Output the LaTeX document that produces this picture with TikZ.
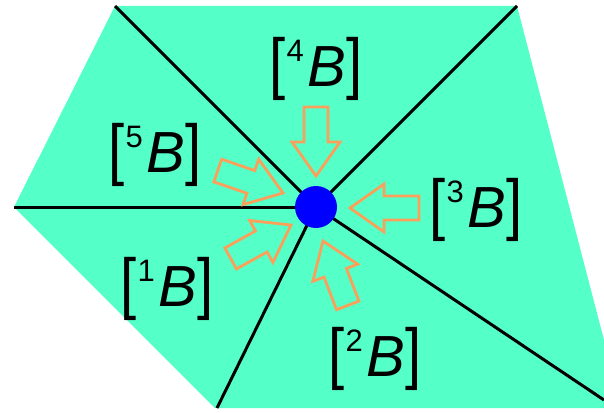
\documentclass[tikz,border=0pt]{standalone}
\usepackage{fontspec}
\setmainfont{Liberation Sans}
\definecolor{meshgreen}{RGB}{85,255,200}
\definecolor{arrorange}{RGB}{250,160,90}
\newcommand{\tallbr}[1]{\scalebox{1}[1.17]{#1}}
\newcommand{\blab}[1]{\tallbr{[}\hspace{1pt}\raisebox{25pt}{\fontsize{31}{31}\selectfont #1}\hspace{4pt}\textit{B}\tallbr{]}}
\tikzset{
  lab/.style={inner sep=0pt, font=\fontsize{58}{58}\selectfont},
  inarrow/.style={draw=arrorange, line width=2.8pt, line join=miter},
  edgeline/.style={line width=3pt, black},
  dot/.style={circle, fill=blue, inner sep=0pt, minimum size=42pt}
}
\begin{document}
\begin{tikzpicture}[x=1pt, y=1pt]
		\useasboundingbox (0,0) rectangle (604,-412);
		% вершины
		\coordinate (c) at (316,-207);
		\coordinate (vA) at (115,-6);
		\coordinate (vB) at (517,-6);
		\coordinate (vC) at (604,-340);
		\coordinate (vD) at (604,-408);
		\coordinate (vE) at (215,-408);
		\coordinate (vF) at (14,-207);
		\coordinate (vG) at (604,-400);
		% область
		\fill[meshgreen] (vA) -- (vB) -- (vC) -- (vD) -- (vE) -- (vF) -- cycle;
		% рёбра
		\foreach \v in {vA, vB, vF, vG}{
			\draw[edgeline] (c) -- (\v);
		}
		\draw[edgeline] (c) -- (217,-408);
		% стрелки
		\foreach \x/\y/\ang in {316/176/-90, 350/208/180, 283/193/-19,
			291/225/29, 323/241/111}{
			\draw[inarrow, shift={(\x,-\y)}, rotate=\ang]
				(0,0) -- (-34,-24) -- (-34,-12) -- (-69,-12) -- (-69,12)
				-- (-34,12) -- (-34,24) -- cycle;
		}
		% узел
		\node[dot] (p) at (c) {};
		% подписи
		\node[lab] (b4) at (316,-69) {\blab{4}};
		\node[lab] (b5) at (155,-155) {\blab{5}};
		\node[lab] (b3) at (476,-210) {\blab{3}};
		\node[lab] (b1) at (167,-289) {\blab{1}};
		\node[lab] (b2) at (375,-359) {\blab{2}};
	\end{tikzpicture}
\end{document}
